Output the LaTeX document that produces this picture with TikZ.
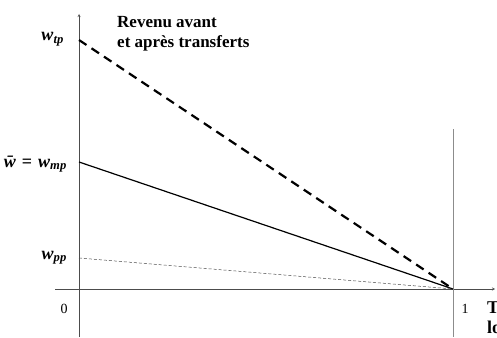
\documentclass[tikz,border=0pt]{standalone}
\usepackage{fontspec}
\setmainfont{Liberation Serif}
\newcommand{\wsub}[1]{\textbf{\textit{w}\textsubscript{\textit{#1}}}}
\begin{document}
\begin{tikzpicture}[x=1pt,y=-1pt,
	lab/.style={font=\fontsize{18}{18}\selectfont\bfseries\itshape, anchor=base east, inner sep=0pt},
	num/.style={font=\fontsize{14}{14}\selectfont},
	ttl/.style={font=\fontsize{17}{20}\selectfont\bfseries, align=left, anchor=north west, inner sep=0pt}]
	\useasboundingbox (0,0) rectangle (497,337);
	\foreach \y/\n in {40/tp, 162/mp, 258/pp, 289/O} \coordinate (\n) at (79,\y);
	\coordinate (one) at (453,289);
	\coordinate (top) at (453,129);
	\coordinate (bot) at (453,337);
	\path (64,41) node[lab](ltp){\wsub{tp}}
		(67,167) node[lab](lmp){\={w}\hspace{6pt}\upshape{=}\hspace{6pt}\wsub{mp}}
		(67,259) node[lab](lpp){\wsub{pp}};
	\path (64,309) node[num](lo){0} (465,309) node[num](l1){1};
	\node[ttl] (titre) at (117,16) {Revenu avant\\et après transferts};
	\node[ttl, font=\fontsize{18}{20}\selectfont\bfseries] (axe) at (487,302) {T\\lo};
	% axes
	\draw[-stealth, thin, black!70] (79,337)--(79,14);
	\draw[-stealth, thin, black!70] (55,289)--(495,289);
	\draw[very thin, black!45] (top)--(bot);
	% revenus
	\draw[line width=2.2pt, dash pattern=on 9pt off 6pt] (tp)--(one);
	\draw[line width=1.2pt] (mp)--(one);
	\draw[line width=0.5pt, black!70, dash pattern=on 3pt off 2pt] (pp)--(one);
\end{tikzpicture}
\end{document}
